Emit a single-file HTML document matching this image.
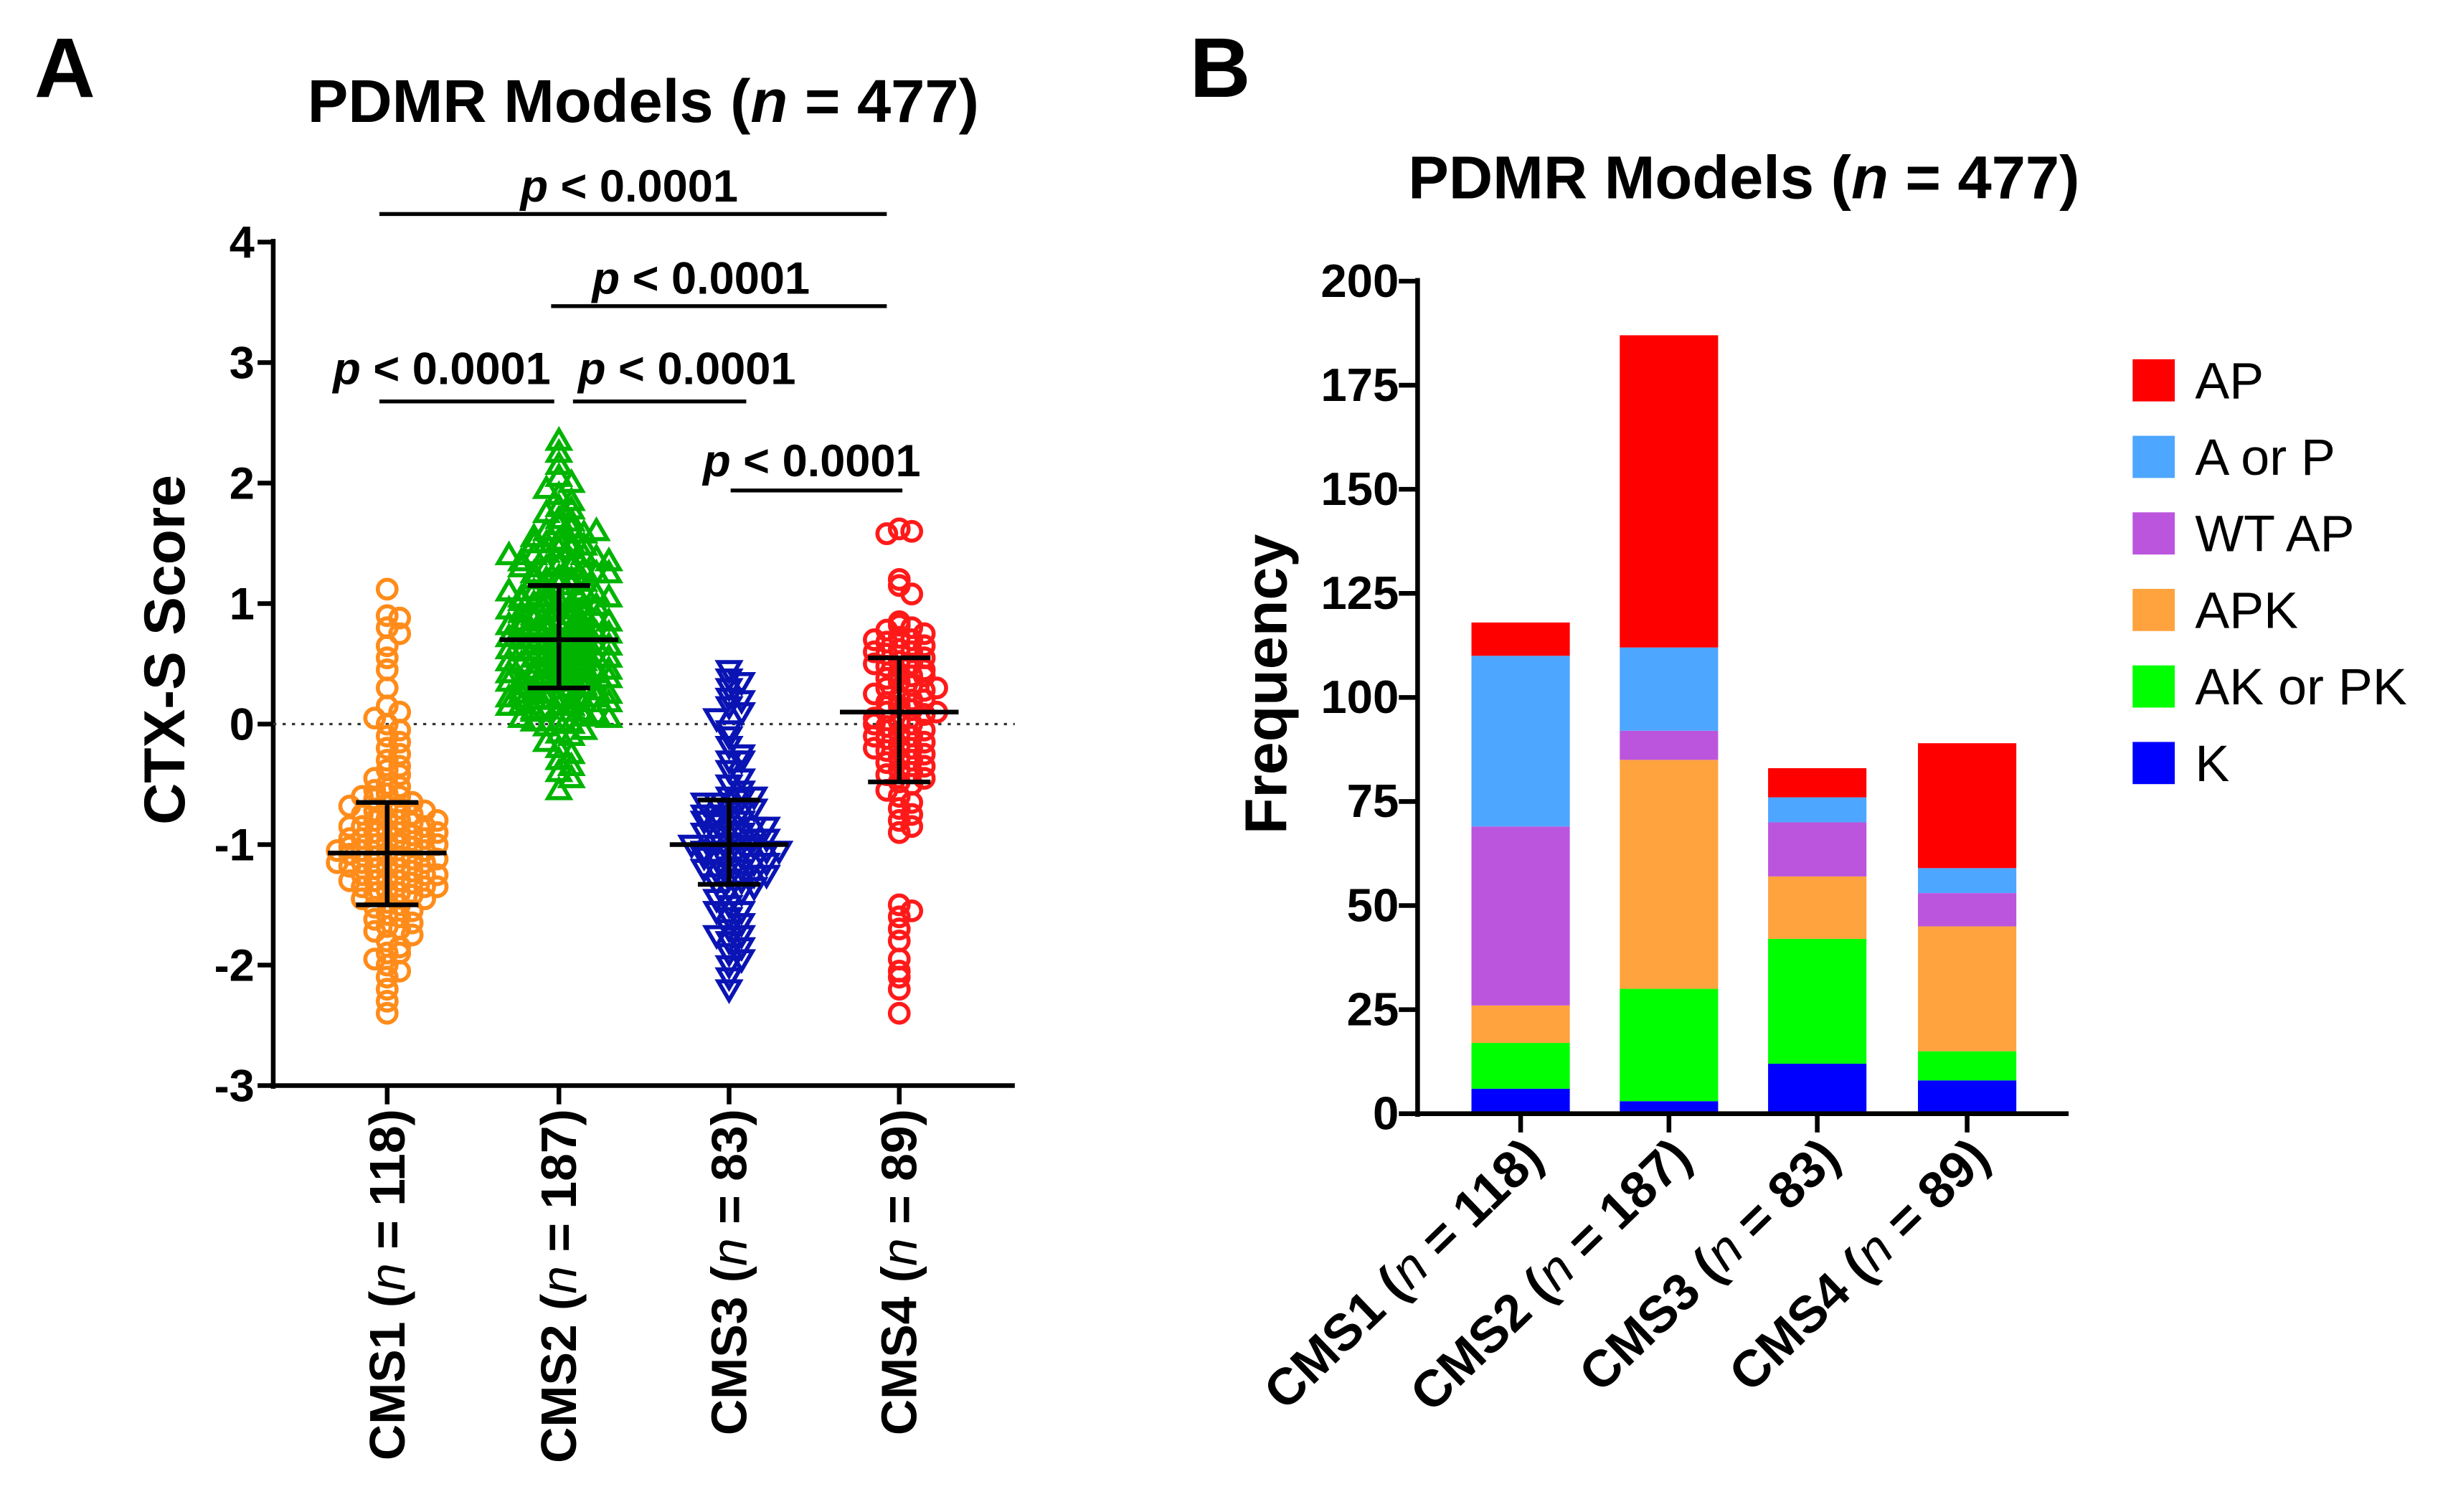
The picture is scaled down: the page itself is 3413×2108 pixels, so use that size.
<!DOCTYPE html>
<html><head><meta charset="utf-8">
<style>
html,body{margin:0;padding:0;background:#fff;}
svg{display:block;font-family:"Liberation Sans",Arial,sans-serif;}
</style></head>
<body>
<svg id="fig" width="3413" height="2108" viewBox="0 0 1568 968" preserveAspectRatio="none" xmlns="http://www.w3.org/2000/svg">
<rect x="0" y="0" width="1568" height="968" fill="#fff"/>
<g id="panelA"></g>
<g id="panelB"></g>
</svg>
<script>
// ---------- Panel A data ----------
const aCategories = ["CMS1","CMS2","CMS3","CMS4"];
const aCounts = ["118","187","83","89"];
const aYTicks = [-3,-2,-1,0,1,2,3,4];
const aMeans = [-1.07, 0.70, -1.00, 0.10];
const aUpper = [-0.65, 1.15, -0.63, 0.55];
const aLower = [-1.50, 0.30, -1.33, -0.48];
const cms1Values = [1.12,0.9,0.88,0.8,0.75,0.65,0.55,0.45,0.3,0.15,0.1,0.05,0.0,-0.05,-0.1,-0.15,-0.2,-0.25,-0.3,-0.35,-0.38,-0.42,-0.45,-0.5,-0.52,-0.55,-0.58,-0.6,-0.62,-0.65,-0.68,-0.7,-0.72,-0.75,-0.75,-0.78,-0.8,-0.8,-0.82,-0.85,-0.85,-0.88,-0.9,-0.9,-0.92,-0.95,-0.95,-0.98,-1.0,-1.0,-1.02,-1.05,-1.05,-1.07,-1.1,-1.1,-1.12,-1.15,-1.15,-1.18,-1.2,-1.2,-1.22,-1.25,-1.25,-1.28,-1.3,-1.3,-1.32,-1.35,-1.35,-1.38,-1.4,-1.4,-1.42,-1.45,-1.48,-1.5,-1.52,-1.55,-1.58,-1.6,-1.62,-1.65,-1.68,-1.7,-1.72,-1.75,-1.8,-1.85,-1.9,-1.9,-1.95,-2.0,-2.05,-2.1,-2.2,-2.3,-2.4,-0.72,-0.85,-0.95,-1.02,-1.08,-1.12,-1.18,-1.25,-1.3,-1.0,-0.9,-0.8,-1.15,-1.05,-0.98,-1.35,-0.68,-0.6,-1.45];
const cms2Values = [2.35,2.25,2.15,2.05,2.0,1.95,1.9,1.85,1.8,1.78,1.75,1.7,1.68,1.65,1.62,1.6,1.58,1.55,1.52,1.5,1.5,1.48,1.45,1.45,1.42,1.4,1.4,1.38,1.35,1.35,1.32,1.3,1.3,1.28,1.25,1.25,1.22,1.2,1.2,1.18,1.15,1.15,1.12,1.1,1.1,1.08,1.05,1.05,1.02,1.0,1.0,0.98,0.95,0.95,0.93,0.9,0.9,0.88,0.85,0.85,0.83,0.8,0.8,0.78,0.75,0.75,0.73,0.7,0.7,0.68,0.65,0.65,0.63,0.6,0.6,0.58,0.55,0.55,0.53,0.5,0.5,0.48,0.45,0.45,0.43,0.4,0.4,0.38,0.35,0.35,0.33,0.3,0.3,0.28,0.25,0.25,0.22,0.2,0.2,0.18,0.15,0.15,0.12,0.1,0.1,0.08,0.05,0.05,0.02,0.0,-0.02,-0.05,-0.08,-0.1,-0.15,-0.2,-0.25,-0.3,-0.35,-0.4,-0.45,-0.55,1.6,1.5,1.4,1.3,1.2,1.1,1.0,0.95,0.9,0.85,0.8,0.75,0.7,0.65,0.6,0.55,0.5,0.45,0.4,0.35,0.3,0.25,0.2,0.15,0.1,1.35,1.25,1.15,1.05,0.98,0.92,0.86,0.82,0.76,0.72,0.66,0.62,0.56,0.52,0.46,0.42,0.36,0.32,0.26,0.22,0.16,0.12,0.06,0.02,0.88,0.78,0.68,0.58,0.48,0.38,0.28,0.18,1.02,0.92,0.82,0.72,0.62,0.52,0.42,0.32,0.22,0.12];
const cms3Values = [0.45,0.38,0.3,0.22,0.15,0.1,0.05,-0.05,-0.1,-0.18,-0.25,-0.3,-0.38,-0.45,-0.5,-0.55,-0.6,-0.62,-0.65,-0.7,-0.72,-0.75,-0.78,-0.8,-0.82,-0.85,-0.88,-0.9,-0.92,-0.95,-0.98,-1.0,-1.0,-1.02,-1.05,-1.05,-1.08,-1.1,-1.12,-1.15,-1.18,-1.2,-1.22,-1.25,-1.28,-1.3,-1.32,-1.35,-1.38,-1.4,-1.45,-1.5,-1.55,-1.6,-1.65,-1.7,-1.75,-1.8,-1.85,-1.9,-1.95,-2.0,-2.1,-2.2,-0.6,-0.7,-0.8,-0.9,-1.0,-1.1,-1.2,-0.75,-0.85,-0.95,-1.05,-1.15,-0.65,-1.25,-1.55,-1.75,0.2,0.35,-0.3];
const cms4Values = [1.62,1.6,1.58,1.2,1.15,1.08,0.85,0.82,0.8,0.78,0.75,0.72,0.7,0.68,0.65,0.62,0.6,0.58,0.55,0.52,0.5,0.48,0.45,0.42,0.4,0.38,0.35,0.32,0.3,0.28,0.25,0.22,0.2,0.18,0.15,0.12,0.1,0.08,0.05,0.02,0.0,-0.02,-0.05,-0.08,-0.1,-0.12,-0.15,-0.18,-0.2,-0.22,-0.25,-0.28,-0.3,-0.32,-0.35,-0.38,-0.4,-0.42,-0.45,-0.48,-0.5,-0.55,-0.6,-0.65,-0.7,-0.75,-0.8,-0.85,-0.9,0.7,0.6,0.5,0.4,0.3,0.2,0.1,0.0,-0.1,-0.2,-1.5,-1.55,-1.6,-1.7,-1.8,-1.95,-2.05,-2.1,-2.2,-2.4];
const aSeries = [cms1Values, cms2Values, cms3Values, cms4Values];
const aColors = ["#ff8c1a","#00b400","#0a14b4","#ff1a1a"];
const aMarkers = ["circle","up","down","circle"];

// ---------- Panel B data ----------
const bCategories = ["CMS1","CMS2","CMS3","CMS4"];
const bCounts = ["118","187","83","89"];
const bYTicks = [0,25,50,75,100,125,150,175,200];
const bStackNames = ["K","AK or PK","APK","WT AP","A or P","AP"];
const bColors = ["#0000ff","#00ff00","#ffa33f","#bb55dd","#4da6ff","#ff0000"];
const kValues = [6,3,12,8];
const akpkValues = [11,27,30,7];
const apkValues = [9,55,15,30];
const wtapValues = [43,7,13,8];
const aorpValues = [41,20,6,6];
const apValues = [8,75,7,30];
const bSeries = [kValues, akpkValues, apkValues, wtapValues, aorpValues, apValues];

const NS = "http://www.w3.org/2000/svg";
function mk(parent, tag, attrs){ const e=document.createElementNS(NS,tag); for(const k in attrs) e.setAttribute(k,attrs[k]); parent.appendChild(e); return e; }

// ===== Panel A =====
const A = document.getElementById('panelA');
const axL=175, axR=650, yTop=155, yBot=695, yMinA=-3, yMaxA=4;
const yA = v => yBot - (v - yMinA)/(yMaxA-yMinA)*(yBot-yTop);
const aCatX = [248,358,467,576];
const xA = i => aCatX[i];

let t = mk(A,'text',{x:22,y:62,'font-size':54,'font-weight':'bold'}); t.textContent='A';
 
t = mk(A,'text',{x:412,y:78,'font-size':39,'font-weight':'bold','text-anchor':'middle'});
t.innerHTML='PDMR Models (<tspan font-style="italic">n</tspan> = 477)';
 
t = mk(A,'text',{x:0,y:0,'font-size':37,'font-weight':'bold','text-anchor':'middle',transform:'translate(118,416) rotate(-90)'});
t.textContent='CTX-S Score';
 

let ln = mk(A,'line',{x1:axL,y1:yTop-2,x2:axL,y2:yBot+2,stroke:'#000','stroke-width':3});
 
ln = mk(A,'line',{x1:axL-2,y1:yBot,x2:axR,y2:yBot,stroke:'#000','stroke-width':3});
 
aYTicks.forEach(v=>{
  const y=yA(v);
  const tk=mk(A,'line',{x1:axL-10,y1:y,x2:axL,y2:y,stroke:'#000','stroke-width':3});
   
  const lb=mk(A,'text',{x:axL-12,y:y+10,'font-size':29,'font-weight':'bold','text-anchor':'end'});
  lb.textContent=String(v);
   
});
const zl = mk(A,'line',{x1:axL,y1:yA(0),x2:axR,y2:yA(0),stroke:'#333','stroke-width':1.5,'stroke-dasharray':'2,4'});
 

aCategories.forEach((c,i)=>{
  const x=xA(i);
  const tk=mk(A,'line',{x1:x,y1:yBot,x2:x,y2:yBot+12,stroke:'#000','stroke-width':3});
   
  const lb=mk(A,'text',{x:0,y:0,'font-size':32,'font-weight':'bold','text-anchor':'end',transform:`translate(${x+11},${yBot+15}) rotate(-90)`});
  lb.innerHTML=`${c} (<tspan font-style="italic" font-weight="normal">n</tspan> = ${aCounts[i]})`;
   
});

// swarm points
aSeries.forEach((vals,i)=>{
  const g=mk(A,'g',{});
  
  
  const bins={};
  vals.forEach(v=>{
    const key=Math.round(v/0.1);
    const k=bins[key]||0; bins[key]=k+1;
    let off=(k===0?0:Math.ceil(k/2)*(k%2?1:-1))*8;
    if(Math.abs(off)>36) off=Math.sign(off)*(Math.abs(off)%36+4);
    const cx=xA(i)+off, cy=yA(v);
    let m;
    if(aMarkers[i]==='circle') m=mk(g,'circle',{cx:cx,cy:cy,r:6,fill:'none',stroke:aColors[i],'stroke-width':2.6});
    else if(aMarkers[i]==='up') m=mk(g,'path',{d:`M${cx},${cy-7} L${cx+7},${cy+5} L${cx-7},${cy+5} Z`,fill:'none',stroke:aColors[i],'stroke-width':2.6});
    else m=mk(g,'path',{d:`M${cx},${cy+7} L${cx+7},${cy-5} L${cx-7},${cy-5} Z`,fill:'none',stroke:aColors[i],'stroke-width':2.6});
     
  });
});
// error bars
aMeans.forEach((mv,i)=>{
  const x=xA(i), g=mk(A,'g',{stroke:'#000','stroke-width':3});
   
  mk(g,'line',{x1:x,y1:yA(aUpper[i]),x2:x,y2:yA(aLower[i])});
  mk(g,'line',{x1:x-38,y1:yA(mv),x2:x+38,y2:yA(mv)});
  mk(g,'line',{x1:x-20,y1:yA(aUpper[i]),x2:x+20,y2:yA(aUpper[i])});
  mk(g,'line',{x1:x-20,y1:yA(aLower[i]),x2:x+20,y2:yA(aLower[i])});
});
// significance brackets
const sigs=[[243,568,137,403,129],[353,568,196,449,188],[243,355,257,283,246],[367,478,257,440,246],[468,578,314,520,305]];
sigs.forEach(s=>{
  const b=mk(A,'line',{x1:s[0],y1:s[2],x2:s[1],y2:s[2],stroke:'#000','stroke-width':2.5});
   
  const tx=mk(A,'text',{x:s[3],y:s[4],'font-size':29,'font-weight':'bold','text-anchor':'middle'});
  tx.innerHTML='<tspan font-style="italic">p</tspan> &lt; 0.0001';
   
});

// ===== Panel B =====
const B=document.getElementById('panelB');
const bL=908, bR=1325, bTop=180, bBot=713, bMax=200;
const yB=v=>bBot - v/bMax*(bBot-bTop);
const bCatX=[974,1069,1164,1260];
const bW=63;
t=mk(B,'text',{x:762,y:62,'font-size':54,'font-weight':'bold'}); t.textContent='B';
 
t=mk(B,'text',{x:1117,y:127,'font-size':39,'font-weight':'bold','text-anchor':'middle'});
t.innerHTML='PDMR Models (<tspan font-style="italic">n</tspan> = 477)';
 
t=mk(B,'text',{x:0,y:0,'font-size':38,'font-weight':'bold','text-anchor':'middle',transform:'translate(824,438) rotate(-90)'});
t.textContent='Frequency';
 

bCategories.forEach((c,i)=>{
  let base=0;
  bSeries.forEach((ser,s)=>{
    const v=ser[i];
    const r=mk(B,'rect',{x:bCatX[i]-bW/2,y:yB(base+v),width:bW,height:yB(base)-yB(base+v),fill:bColors[s]});
    
    
    base+=v;
  });
});
ln=mk(B,'line',{x1:bL,y1:bTop-2,x2:bL,y2:bBot+2,stroke:'#000','stroke-width':3});
 
ln=mk(B,'line',{x1:bL-2,y1:bBot,x2:bR,y2:bBot,stroke:'#000','stroke-width':3});
 
bYTicks.forEach(v=>{
  const y=yB(v);
  const tk=mk(B,'line',{x1:bL-12,y1:y,x2:bL,y2:y,stroke:'#000','stroke-width':3});
   
  const lb=mk(B,'text',{x:bL-12,y:y+10,'font-size':30,'font-weight':'bold','text-anchor':'end'});
  lb.textContent=String(v);
   
});
bCategories.forEach((c,i)=>{
  const x=bCatX[i];
  const tk=mk(B,'line',{x1:x,y1:bBot,x2:x,y2:bBot+12,stroke:'#000','stroke-width':3});
   
  const lb=mk(B,'text',{x:0,y:0,'font-size':33,'font-weight':'bold','text-anchor':'end',transform:`translate(${x+16},${bBot+30}) rotate(-44)`});
  lb.innerHTML=`${c} (<tspan font-style="italic" font-weight="normal">n</tspan> = ${bCounts[i]})`;
   
});
// legend (top to bottom: AP ... K)
const legOrder=[5,4,3,2,1,0];
legOrder.forEach((s,j)=>{
  const y=230+j*49;
  const sw=mk(B,'rect',{x:1366,y:y,width:27,height:27,fill:bColors[s]});
   
  const lb=mk(B,'text',{x:1406,y:y+25,'font-size':33});
  lb.textContent=bStackNames[s];
   
});
</script>
</body></html>
